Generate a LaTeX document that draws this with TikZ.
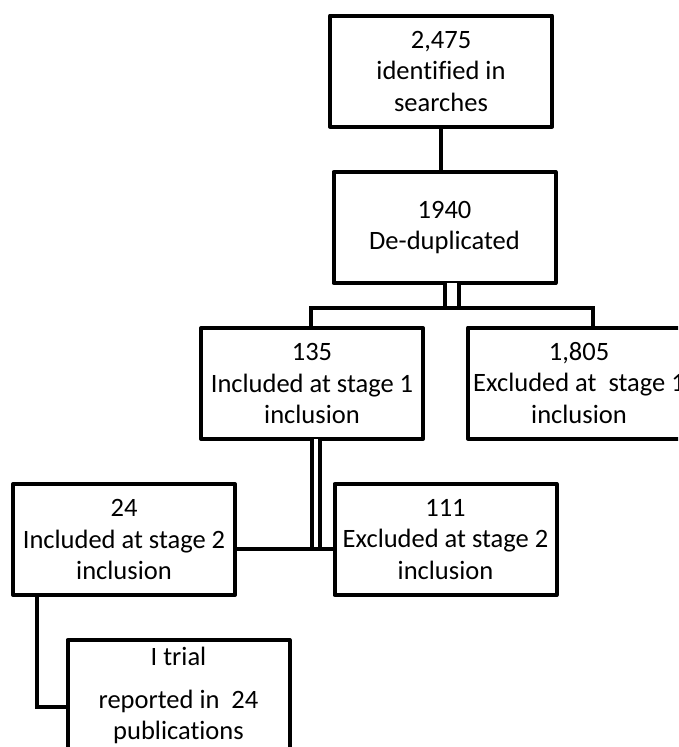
\documentclass[tikz,border=0pt]{standalone}
\usepackage{fontspec}
\setmainfont{Carlito}[Ligatures=NoCommon]
\begin{document}
\begin{tikzpicture}[x=1pt,y=-1pt,
  box/.style={draw, line width=4pt, fill=white, minimum width=222pt, minimum height=111pt,
    inner sep=0pt, outer sep=0pt, align=center, line join=round,
    font=\fontsize{26.5}{31.5}\selectfont},
  conn/.style={line width=4pt, line join=miter},
  dblwide/.style={line width=4pt, double, double distance=9.5pt},
  dblnarrow/.style={line width=4pt, double, double distance=4.5pt}]
\path[use as bounding box] (0,0) rectangle (678,747);
\clip (0,0) rectangle (678,747);

% junction points
\coordinate (j1) at (452,308);
\coordinate (j1r) at (593,308);
\coordinate (j2) at (316,549);
\coordinate (j3) at (37,707);

% boxes
\path (441,71) node[box] (b1) {2,475\\identified in\\searches};
\path (444.5,227.5) node[box] (b2) {1940\\De-duplicated};
\path (312,383.5) node[box] (b3) {135\\Included at stage 1\\inclusion};
\path (579,383) node[box] (b4) {1,805\\Excluded at\ \ stage 1\\inclusion};
\path (124,539.5) node[box] (b5) {24\\Included at stage 2\\inclusion};
\path (445.5,539.5) node[box] (b6) {111\\Excluded at stage 2\\inclusion};
\path (178.5,695.5) node[box] (b7) {I trial\\[11pt]reported in\ \ 24\\publications};

% connectors
\draw[conn] (b1.south -| 441,0) -- (b2.north -| 441,0);
\draw[dblwide] (b2.south -| j1) -- (j1);
\draw[conn] (b3.north -| 311,0) |- (j1r) -- (j1r |- b4.north);
\draw[dblnarrow] (b3.south -| j2) -- (j2);
\draw[conn] (b5.east |- j2) -- (b6.west |- j2);
\draw[conn] (b5.south -| j3) |- (b7.west |- j3);
\end{tikzpicture}
\end{document}
